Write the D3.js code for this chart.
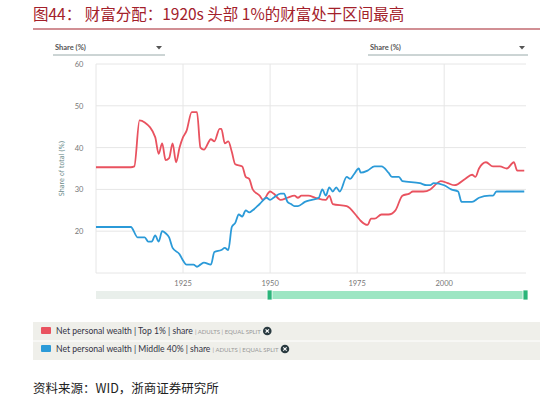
<!DOCTYPE html>
<html><head><meta charset="utf-8">
<script src="https://cdn.jsdelivr.net/npm/d3@7"></script>
<style>
body{margin:0;background:#fff;font-family:Lato,"Noto Sans",sans-serif;}
</style></head>
<body><svg id="chart"></svg>
<script>
// 数据
const topYears = [1900,1910,1911,1912.5,1914,1917,1918,1919,1920,1921,1922,1923,1924,1925,1926,1927.5,1929,1930,1931,1933,1934,1935.5,1936,1937,1938,1939,1940,1942,1943,1944,1945,1947,1948,1950,1951,1953,1955,1957,1958,1959,1961,1963,1966,1967,1968,1972,1975,1976,1978,1979,1980,1982,1984,1986,1988,1990,1991,1994,1996,1998,1999,2001,2003,2006,2008,2009,2010,2012,2014,2016,2018,2020,2021,2023];
const topShare = [35.3,35.3,35.5,46.5,46,42.5,38.5,41,37,37.5,41,36.5,40,42.5,44,48.5,48.5,40,39.5,42,41.5,44.5,44.5,41,41.5,39,36,35.5,33,32.5,30,28.5,27.5,29.5,29,27.5,28,28.5,28,28.5,28.5,28,27.5,28.5,26.5,26,23.5,22.5,21.5,23,23,24,24,25,28.5,29,29.5,29.5,30,31.5,32,31.5,31,32.5,33.5,33,35,36.5,35.5,35.5,35,36.5,34.5,34.5];
const midYears = [1900,1910,1912,1914,1915,1916,1917,1918,1919,1920,1921,1922,1924,1925,1926,1928,1929,1930,1931,1933,1934,1936,1937,1938,1939,1940,1941,1942,1943,1944,1945,1947,1949,1950,1951,1953,1954,1955,1956,1957,1958,1960,1962,1964,1965,1966,1967,1968,1969,1970,1972,1973,1974,1975.5,1976,1978,1980,1982,1984,1985,1987,1988,1993,1995,1996,1997,2000,2002,2004,2005,2008,2010,2013,2014,2015,2023];
const midShare = [21,21,18.5,18.5,17.5,17.5,19,17.5,20,19.5,18.5,16,14.5,13,12,12,11.5,12,12.5,12,15,15.5,16,15.5,21,22,24,23.5,25,24.5,25,26.5,28,27.5,28,29,29,27,26.5,26,26,27,27.5,28,30,28.5,30.5,29.5,30.5,29.5,33,32.5,33.5,35,34,34.5,35.5,35.5,34,33,33,32,31.5,31,31,31.5,31,30,29.5,27,27,28,28.5,28.5,29.5,29.5];
const xTicks = [1925,1950,1975,2000];
const yTicks = [20,30,40,50,60];
const seriesNames = ["Net personal wealth | Top 1% | share","Net personal wealth | Middle 40% | share"];
const seriesColors = ["#e9525f","#2b9ad8"];

const W = 548, H = 403;
const svg = d3.select("#chart").attr("width", W).attr("height", H);

// 标题
svg.append("text").attr("x", 33).attr("y", 20)
  .attr("font-family", "'Noto Sans CJK SC'").attr("font-size", 15.5).attr("fill", "#a3202a")
  .text("图44：  财富分配：1920s 头部 1%的财富处于区间最高");
svg.append("line").attr("x1", 33).attr("x2", 540).attr("y1", 29).attr("y2", 29)
  .attr("stroke", "#a3202a").attr("stroke-width", 1.2);

// 下拉框
[[55, 165], [370, 528]].forEach(([a, b]) => {
  svg.append("text").attr("x", a).attr("y", 50).attr("font-size", 7.5).attr("font-weight", "bold")
    .attr("fill", "#555").text("Share (%)");
  svg.append("path").attr("d", `M${b - 9},46 l6,0 l-3,3.5z`).attr("fill", "#555");
  svg.append("line").attr("x1", a - 2).attr("x2", b).attr("y1", 55).attr("y2", 55)
    .attr("stroke", "#9aa").attr("stroke-width", 1);
});

const x = d3.scaleLinear().domain([1900, 2023.5]).range([96, 526]);
const y = d3.scaleLinear().domain([10, 60]).range([273, 64]);

const g = svg.append("g");
g.selectAll(".vg").data(xTicks).enter().append("line")
  .attr("x1", d => x(d)).attr("x2", d => x(d)).attr("y1", 64).attr("y2", 273)
  .attr("stroke", "#e6e6e6");
g.selectAll(".hg").data(yTicks).enter().append("line")
  .attr("x1", 96).attr("x2", 526).attr("y1", d => y(d)).attr("y2", d => y(d))
  .attr("stroke", "#e6e6e6");
g.append("line").attr("x1", 96).attr("x2", 96).attr("y1", 64).attr("y2", 273).attr("stroke", "#e6e6e6");
g.append("line").attr("x1", 96).attr("x2", 526).attr("y1", 273).attr("y2", 273).attr("stroke", "#e6e6e6");

g.selectAll(".yl").data(yTicks).enter().append("text")
  .attr("x", 79).attr("y", d => y(d) + 3).attr("text-anchor", "middle")
  .attr("font-size", 7.5).attr("fill", "#777").text(d => d);
g.selectAll(".xl").data(xTicks).enter().append("text")
  .attr("x", d => x(d)).attr("y", 286).attr("text-anchor", "middle")
  .attr("font-size", 7.5).attr("fill", "#777").text(d => d);
g.append("text").attr("transform", "rotate(-90)").attr("x", -y(35)).attr("y", 64)
  .attr("text-anchor", "middle").attr("font-size", 7).attr("fill", "#6a8a8a")
  .attr("font-family", "'Liberation Sans Narrow','DejaVu Sans Condensed',sans-serif").text("Share of total (%)");

const line = d3.line().x(d => x(d[0])).y(d => y(d[1])).curve(d3.curveMonotoneX);
[[topYears, topShare], [midYears, midShare]].forEach(([ys, vs], i) => {
  g.append("path").attr("d", line(d3.zip(ys, vs))).attr("fill", "none")
    .attr("stroke", seriesColors[i]).attr("stroke-width", 1.8);
});

// 滑块
svg.append("rect").attr("x", 96).attr("y", 291).attr("width", 430).attr("height", 8).attr("fill", "#e9efeb");
svg.append("rect").attr("x", x(1950) - 3).attr("y", 291).attr("width", 526 - x(1950) + 3).attr("height", 8).attr("fill", "#9de6c3");
[x(1950) - 3, 523].forEach(px => {
  svg.append("rect").attr("x", px).attr("y", 290).attr("width", 5).attr("height", 10)
    .attr("fill", "#2bb57a").attr("stroke", "#fff").attr("stroke-width", 0.8);
});

// 图例
svg.append("rect").attr("x", 33).attr("y", 322).attr("width", 507).attr("height", 38).attr("fill", "#efefea");
svg.append("line").attr("x1", 33).attr("x2", 540).attr("y1", 341).attr("y2", 341).attr("stroke", "#fff");
const suffix = ["| ADULTS | EQUAL SPLIT"];
seriesNames.forEach((name, i) => {
  const yy = 331 + i * 18;
  svg.append("rect").attr("x", 41).attr("y", yy - 4).attr("width", 10).attr("height", 7).attr("rx", 1).attr("fill", seriesColors[i]);
  const t = svg.append("text").attr("x", 56).attr("y", yy + 3).attr("font-size", 8.6).attr("fill", "#334");
  t.append("tspan").text(name + " ");
  t.append("tspan").attr("font-size", 6).attr("fill", "#999").text(suffix[0]);
  const bb = t.node().getBBox();
  const cx = bb.x + bb.width + 6;
  svg.append("circle").attr("cx", cx).attr("cy", yy).attr("r", 4.3).attr("fill", "#2a3a40");
  svg.append("path").attr("d", `M${cx - 1.7},${yy - 1.7}L${cx + 1.7},${yy + 1.7}M${cx + 1.7},${yy - 1.7}L${cx - 1.7},${yy + 1.7}`)
    .attr("stroke", "#fff").attr("stroke-width", 1.1);
});

// 来源
svg.append("text").attr("x", 33).attr("y", 393).attr("font-family", "'Noto Sans CJK SC'")
  .attr("font-size", 12.5).attr("fill", "#222").text("资料来源：WID，浙商证券研究所");
</script></body></html>
